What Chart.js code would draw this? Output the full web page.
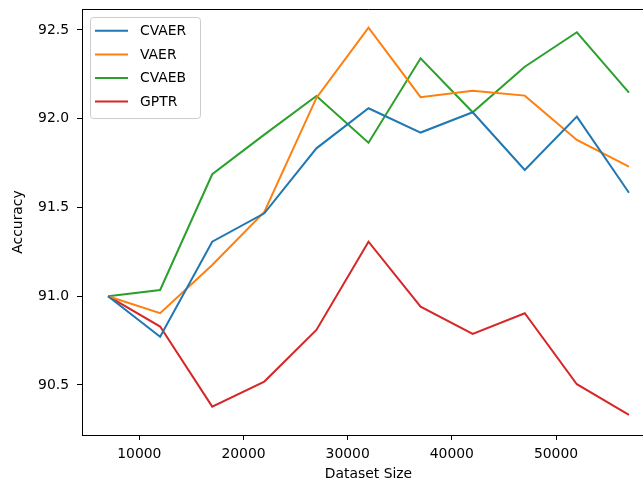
<!DOCTYPE html>
<html>
<head>
<meta charset="utf-8">
<script src="https://cdn.jsdelivr.net/npm/chart.js@4.4.1/dist/chart.umd.min.js"></script>
<style>
    html, body { margin: 0; padding: 0; background: #fff; overflow: hidden; }
    #wrap { width: 643px; height: 483px; overflow: hidden; }
    canvas { display: block; }
</style>
</head>
<body>
<div id="wrap"><canvas id="chart" width="655" height="483"></canvas></div>
<script>
// values
const datasetSizes = [7000, 12000, 17000, 22000, 27000, 32000, 37000, 42000, 47000, 52000, 57000];
const cvaer = [91.0, 90.772, 91.307, 91.467, 91.833, 92.059, 91.922, 92.036, 91.711, 92.012, 91.583];
const vaer  = [91.0, 90.904, 91.176, 91.475, 92.117, 92.513, 92.121, 92.158, 92.130, 91.880, 91.730];
const cvaeb = [91.0, 91.035, 91.687, 91.910, 92.128, 91.865, 92.340, 92.036, 92.293, 92.487, 92.147];
const gptr  = [91.0, 90.829, 90.378, 90.519, 90.810, 91.307, 90.941, 90.787, 90.904, 90.504, 90.331];

const seriesNames = ['CVAER', 'VAER', 'CVAEB', 'GPTR'];
const seriesColors = ['#1f77b4', '#ff7f0e', '#2ca02c', '#d62728'];

const xTicks = [10000, 20000, 30000, 40000, 50000];
const yTicks = [90.5, 91.0, 91.5, 92.0, 92.5];

const FONT = 'DejaVu Sans';
Chart.defaults.font.family = FONT;
Chart.defaults.font.size = 13.9;
Chart.defaults.color = '#000';

const toPoints = vals => datasetSizes.map((x, i) => ({ x: x, y: vals[i] }));

// top / right spines (left and bottom come from the scale borders)
const framePlugin = {
    id: 'frame',
    afterDraw(chart) {
        const { ctx, chartArea: a } = chart;
        ctx.save();
        ctx.strokeStyle = '#000';
        ctx.lineWidth = 1;
        ctx.beginPath();
        ctx.moveTo(a.left, a.top + 0.5);
        ctx.lineTo(a.right - 0.5, a.top + 0.5);
        ctx.lineTo(a.right - 0.5, a.bottom);
        ctx.stroke();
        ctx.restore();
    }
};

// matplotlib-like legend box in the upper left corner
const boxLegend = {
    id: 'boxLegend',
    afterDatasetsDraw(chart) {
        const ctx = chart.ctx;
        const sets = chart.data.datasets;
        ctx.save();
        ctx.beginPath();
        ctx.roundRect(90.5, 17.5, 110, 101, 3);
        ctx.fillStyle = 'rgba(255,255,255,0.8)';
        ctx.fill();
        ctx.strokeStyle = '#cccccc';
        ctx.lineWidth = 1;
        ctx.stroke();
        ctx.font = '13.9px "' + FONT + '"';
        ctx.textBaseline = 'middle';
        ctx.textAlign = 'left';
        sets.forEach((ds, i) => {
            const y = 30.8 + i * 23.6;
            ctx.strokeStyle = ds.borderColor;
            ctx.lineWidth = 2;
            ctx.beginPath();
            ctx.moveTo(95, y);
            ctx.lineTo(128, y);
            ctx.stroke();
            ctx.fillStyle = '#000';
            ctx.fillText(ds.label, 140, y + 0.5);
        });
        ctx.restore();
    }
};

new Chart(document.getElementById('chart'), {
    type: 'line',
    data: {
        datasets: [cvaer, vaer, cvaeb, gptr].map((vals, i) => ({
            label: seriesNames[i],
            data: toPoints(vals),
            borderColor: seriesColors[i],
            backgroundColor: seriesColors[i],
            borderWidth: 2,
            pointRadius: 0,
            tension: 0,
            fill: false
        }))
    },
    options: {
        responsive: false,
        animation: false,
        devicePixelRatio: 1,
        layout: { padding: { top: 9, left: 0, right: 0, bottom: 0 } },
        plugins: {
            legend: { display: false },
            tooltip: { enabled: false }
        },
        scales: {
            x: {
                type: 'linear',
                min: 4500,
                max: 59500,
                afterBuildTicks: s => { s.ticks = xTicks.map(v => ({ value: v })); },
                afterFit: s => { s.height = 48; s.paddingLeft = 0; s.paddingRight = 0; },
                grid: { drawOnChartArea: false, color: '#000', tickLength: 5 },
                border: { color: '#000', width: 1 },
                ticks: { padding: 6, maxRotation: 0, autoSkip: false, callback: v => String(v) },
                title: { display: true, text: 'Dataset Size', padding: { top: 0, bottom: 0 } }
            },
            y: {
                min: 90.218,
                max: 92.618,
                afterBuildTicks: s => { s.ticks = yTicks.map(v => ({ value: v })); },
                afterFit: s => { s.width = 82; s.paddingTop = 0; s.paddingBottom = 0; },
                grid: { drawOnChartArea: false, color: '#000', tickLength: 5 },
                border: { color: '#000', width: 1 },
                ticks: { padding: 8, autoSkip: false, callback: v => v.toFixed(1) },
                title: { display: true, text: 'Accuracy', padding: { top: 10, bottom: 0 } }
            }
        }
    },
    plugins: [framePlugin, boxLegend]
});
</script>
</body>
</html>
